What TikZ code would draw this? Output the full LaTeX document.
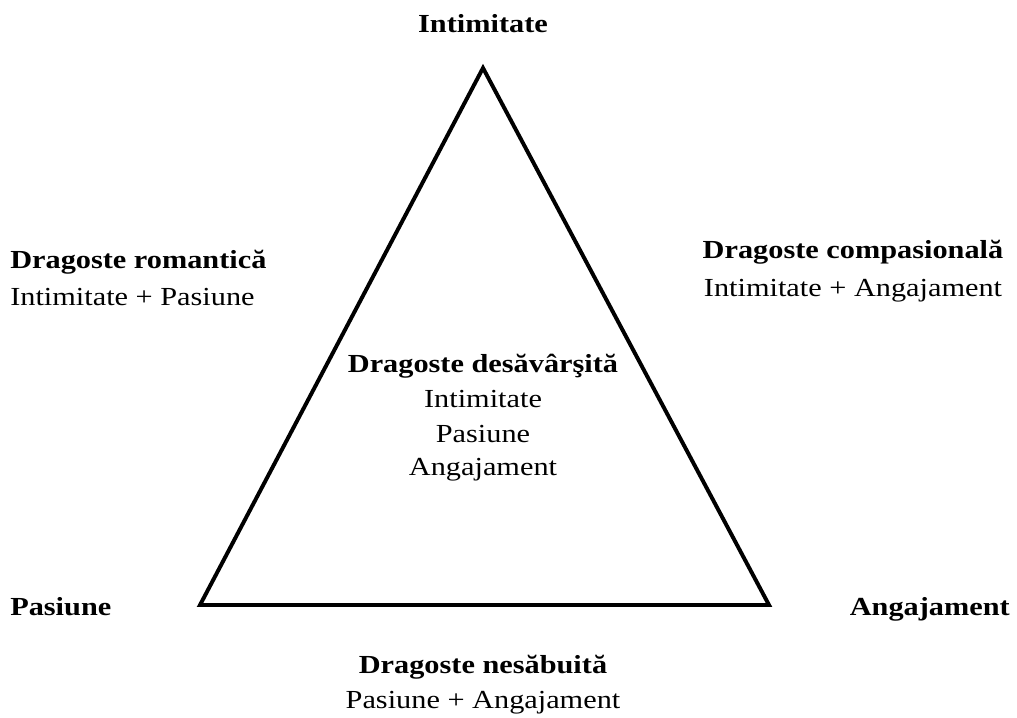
\documentclass[tikz,border=0pt]{standalone}
\usepackage{fontspec}
\setmainfont{Liberation Serif}[FakeStretch=1.165]
\begin{document}
\begin{tikzpicture}[x=0.025cm, y=-0.025cm, font=\fontsize{18.5}{20}\selectfont,
        vrf/.style={font=\fontsize{18.5}{20}\selectfont\bfseries},
        txt/.style={inner sep=0pt, anchor=base}]
        \useasboundingbox (0,0) rectangle (1017,717);
        \coordinate (I) at (483,68);\coordinate (P) at (200,605);\coordinate (A) at (769,605);
        \draw [line width=2.8pt, line join=miter] (I)--(P)--(A)--cycle;
        \node [txt, vrf] (intim) at (483,32) {Intimitate};
        \node [txt, vrf, anchor=base west] (pas) at (10,615) {Pasiune};
        \node [txt, vrf, anchor=base east] (ang) at (1010,615) {Angajament};
        \node [txt, vrf, anchor=base west] (rom) at (10,268) {Dragoste romantică};
        \node [txt, anchor=base west] (romtxt) at (10,305) {Intimitate + Pasiune};
        \node [txt, vrf] (comp) at (853,258) {Dragoste compasională};
        \node [txt] (comptxt) at (853,296) {Intimitate + Angajament};
        \node [txt, vrf] (des) at (483,372) {Dragoste desăvârşită};
        \node [txt] (desa) at (483,407) {Intimitate};
        \node [txt] (desb) at (483,442) {Pasiune};
        \node [txt] (desc) at (483,475) {Angajament};
        \node [txt, vrf] (nes) at (483,673) {Dragoste nesăbuită};
        \node [txt] (nestxt) at (483,708) {Pasiune + Angajament};
\end{tikzpicture}
\end{document}
